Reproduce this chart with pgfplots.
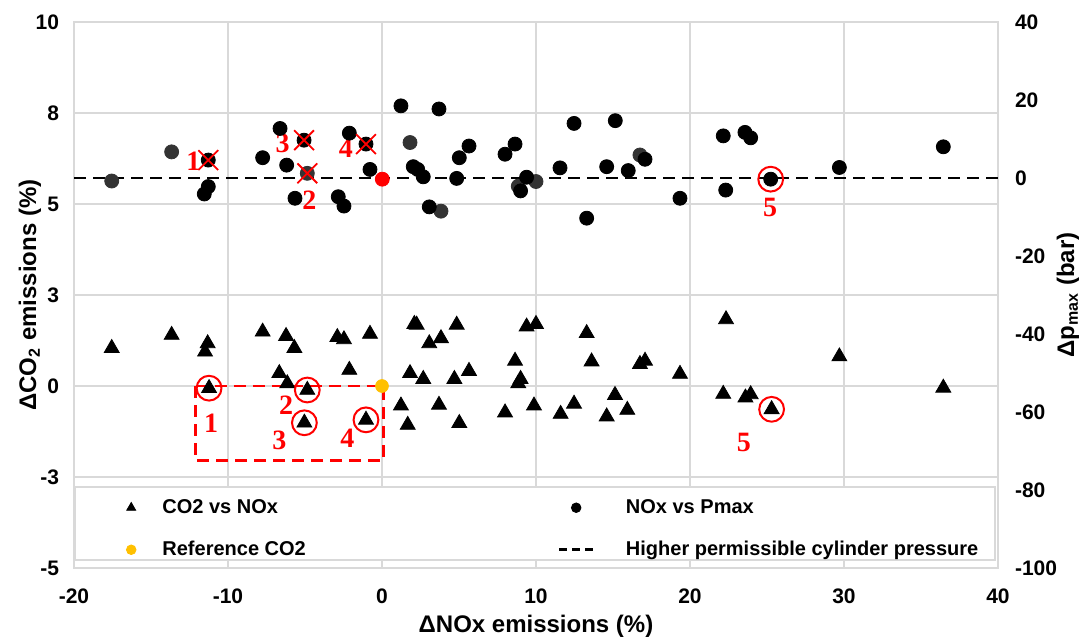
\documentclass[border=0pt]{standalone}
\usepackage{fontspec}
\setmainfont{Liberation Sans}
\newfontfamily\serifnum{Liberation Serif}
\usepackage{pgfplots}
\pgfplotsset{compat=1.18}
\usepackage{pgfplotstable}

\definecolor{refyellow}{HTML}{FFC000}
\definecolor{gridgray}{HTML}{D9D9D9}
\definecolor{dotgray}{HTML}{333333}

% CO2 vs NOx (left axis, %)
\pgfplotstableread{
x y
-17.55 1.04
-13.66 1.40
-11.32 1.17
-11.49 0.94
-11.23 -0.06
-7.75 1.49
-6.23 1.37
-5.69 1.04
-6.67 0.35
-6.15 0.07
-4.85 -0.11
-5.04 -1.01
-2.90 1.34
-2.47 1.28
-0.78 1.43
-2.12 0.44
-1.04 -0.93
2.10 1.70
2.25 1.68
3.07 1.17
3.83 1.31
4.85 1.68
1.82 0.35
2.68 0.19
4.70 0.19
5.65 0.41
1.23 -0.54
1.67 -1.07
3.70 -0.52
5.02 -1.02
9.39 1.63
10.00 1.70
8.64 0.69
9.00 0.19
8.85 0.07
7.99 -0.73
9.87 -0.54
13.29 1.45
13.61 0.67
11.60 -0.77
12.47 -0.49
15.13 -0.25
14.59 -0.84
15.93 -0.66
16.75 0.60
17.08 0.69
19.35 0.33
22.34 1.83
22.16 -0.22
23.60 -0.32
23.94 -0.23
25.30 -0.64
29.70 0.81
36.45 -0.05
}\co

% NOx vs Pmax (right axis, bar)
\pgfplotstableread{
x p
-11.28 4.6
-11.28 -2.2
-11.54 -4.1
-6.62 12.7
-7.75 5.2
-6.19 3.3
-5.06 9.7
-5.65 -5.2
-2.84 -4.8
-2.47 -7.2
-2.12 11.5
-1.04 8.7
-0.78 2.2
1.23 18.5
3.70 17.7
2.03 2.9
2.32 2.2
2.68 0.3
3.07 -7.4
5.02 5.2
5.65 8.2
4.85 -0.1
7.99 6.1
8.64 8.7
9.39 0.2
9.00 -3.3
11.56 2.6
12.47 14.0
13.29 -10.3
14.59 2.9
15.15 14.7
15.99 1.9
17.08 4.8
19.35 -5.2
22.16 10.8
22.32 -3.1
23.57 11.7
23.94 10.3
25.24 -0.3
29.70 2.7
36.45 8.0
}\pmax

\pgfplotstableread{
x p
-17.55 -0.77
-13.66 6.7
-4.85 1.2
1.82 9.1
3.83 -8.5
8.85 -2.1
10.00 -0.9
16.75 5.9
}\pmaxgrey

\pgfplotsset{
  common/.style={
    scale only axis, width=462pt, height=273pt,
    at={(37pt,35.5pt)}, anchor=south west,
    xmin=-20, xmax=40,
    major tick length=0pt,
    ticklabel style={font=\fontsize{10.5}{12}\selectfont\bfseries},
    label style={font=\fontsize{12}{14}\selectfont\bfseries},
  },
}

\begin{document}
\begin{tikzpicture}
\useasboundingbox (0,0) rectangle (544pt,319.5pt);

% left axis: CO2
\begin{axis}[
  common,
  ymin=-5, ymax=10,
  xtick={-20,-10,...,40},
  xticklabels={-20,-10,0,10,20,30,40},
  ytick={-5,-2.5,0,2.5,5,7.5,10},
  yticklabels={-5,-3,0,3,5,8,10},
  grid=major,
  grid style={gridgray, line width=0.7pt},
  axis line style={gridgray, line width=0.9pt},
  xticklabel style={yshift=-7pt},
  yticklabel style={xshift=-4pt},
  xlabel={ΔNOx emissions (\%)},
  ylabel={ΔCO\textsubscript{2} emissions (\%)},
  xlabel style={at={(rel axis cs:0.5,-0.106)}, anchor=center},
  ylabel style={at={(rel axis cs:-0.0476,0.5)}, anchor=center},
]
% legend background box
\filldraw[fill=white, draw=gridgray, line width=0.8pt]
  (rel axis cs:0.001,0.0147) rectangle (rel axis cs:0.997,0.148);

\addplot[only marks, mark=triangle*, mark size=4.3pt, black] table[x=x,y=y] {\co};
\addplot[only marks, mark=*, mark size=3.2pt, refyellow] coordinates {(0,0)};

% highlighted cases
\addplot[red, line width=1.3pt, dash pattern=on 6pt off 3.5pt]
  coordinates {(-12.1,0) (0.1,0) (0.1,-2.05) (-12.1,-2.05) (-12.1,0)};
\addplot[only marks, mark=o, mark size=6.2pt, red, line width=1pt]
  coordinates {(-11.23,-0.06) (-4.85,-0.11) (-5.04,-1.01) (-1.04,-0.93) (25.30,-0.64)};

\begin{scope}[every node/.style={red, font=\serifnum\bfseries\fontsize{14}{16}\selectfont}]
\node at (axis cs:-11.1,-1.03) {1};
\node at (axis cs:-6.23,-0.52) {2};
\node at (axis cs:-6.67,-1.48) {3};
\node at (axis cs:-2.25,-1.44) {4};
\node at (axis cs:23.5,-1.56) {5};
\end{scope}
\end{axis}

% right axis: Pmax
\begin{axis}[
  common,
  ymin=-100, ymax=40,
  axis y line*=right,
  axis x line=none,
  ytick={-100,-80,...,40},
  yticklabels={-100,-80,-60,-40,-20,0,20,40},
  axis line style={gridgray, line width=0.9pt},
  yticklabel style={xshift=5pt},
  ylabel={Δp\textsubscript{max} (bar)},
  ylabel style={at={(rel axis cs:1.0758,0.5)}, anchor=center},
  legend cell align=left,
  legend style={
    at={(rel axis cs:0.0563,0.134)}, anchor=north west,
    draw=none, fill=none, inner sep=0pt,
    font=\fontsize{10}{12}\selectfont\bfseries,
    row sep=8.4pt,
    /tikz/column 1/.style={column sep=11.2pt},
    /tikz/column 2/.style={column sep=124pt},
    /tikz/column 3/.style={column sep=13.7pt},
  },
  legend columns=2,
]
\addlegendimage{only marks, mark=triangle*, mark size=2.6pt, black}
\addlegendentry{CO2 vs NOx}
\addlegendimage{only marks, mark=*, mark size=2.4pt, black}
\addlegendentry{NOx vs Pmax}
\addlegendimage{only marks, mark=*, mark size=2.4pt, refyellow}
\addlegendentry{Reference CO2}
\addlegendimage{black, line width=1.3pt, dash pattern=on 4pt off 2.5pt}
\addlegendentry{Higher permissible cylinder pressure}

\addplot[forget plot, black, line width=1.4pt, dash pattern=on 6pt off 3.5pt]
  coordinates {(-20,0) (40,0)};
\addplot[forget plot, only marks, mark=*, mark size=3.5pt, dotgray] table[x=x,y=p] {\pmaxgrey};
\addplot[forget plot, only marks, mark=*, mark size=3.5pt, black] table[x=x,y=p] {\pmax};
\addplot[forget plot, only marks, mark=*, mark size=3.5pt, red] coordinates {(0.02,-0.3)};

% crossed-out and highlighted cases
\addplot[forget plot, only marks, mark=x, mark size=7pt, red, line width=0.9pt]
  coordinates {(-11.28,4.6) (-4.85,1.2) (-5.06,9.7) (-1.04,8.7)};
\addplot[forget plot, only marks, mark=o, mark size=6.2pt, red, line width=1pt]
  coordinates {(25.24,-0.3)};

\begin{scope}[every node/.style={red, font=\serifnum\bfseries\fontsize{14}{16}\selectfont}]
\node at (axis cs:-12.25,4.2) {1};
\node at (axis cs:-4.72,-5.8) {2};
\node at (axis cs:-6.45,8.9) {3};
\node at (axis cs:-2.34,7.6) {4};
\node at (axis cs:25.2,-7.5) {5};
\end{scope}
\end{axis}
\end{tikzpicture}
\end{document}
